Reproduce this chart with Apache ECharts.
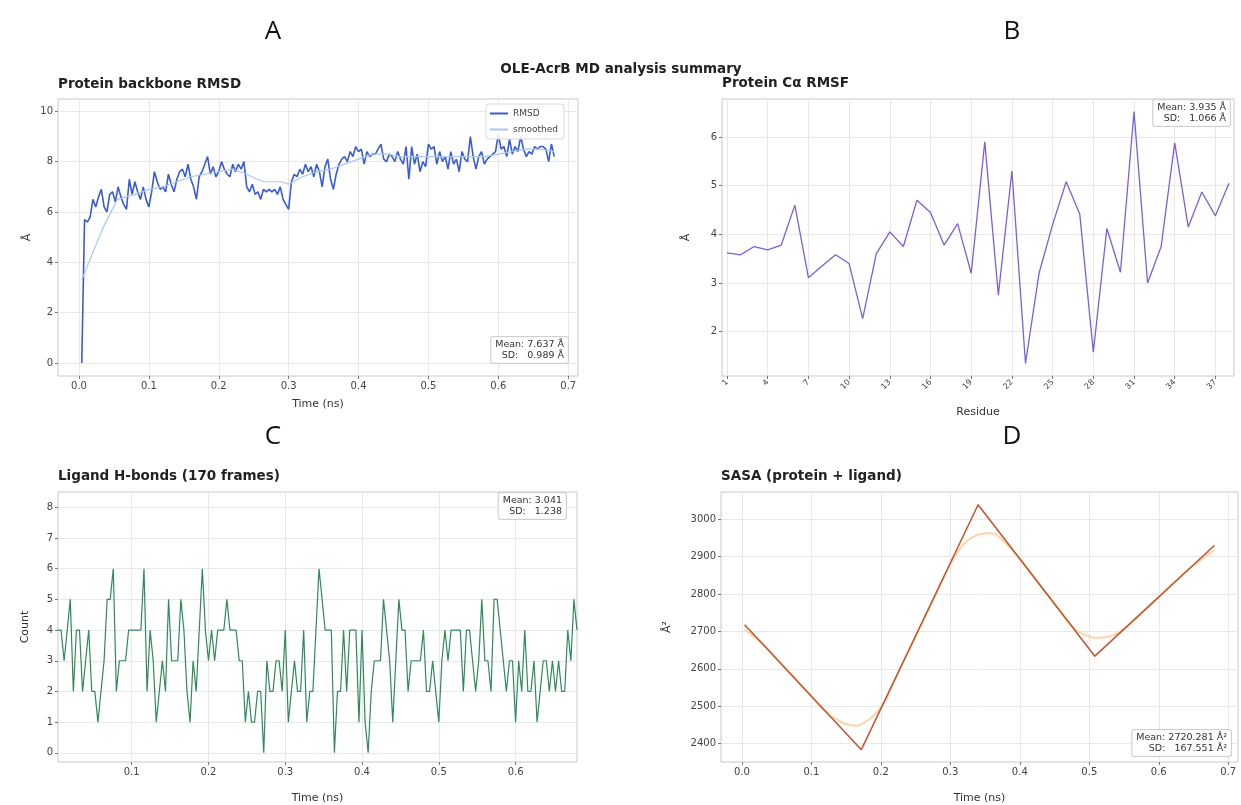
<!DOCTYPE html>
<html>
<head>
    <meta charset="utf-8"/>
    <script src="https://cdn.jsdelivr.net/npm/echarts@6.0.0/dist/echarts.min.js"></script>
    <style>
        html, body { margin: 0; padding: 0; background: #fff; }
    </style>
</head>
<body>
<div id="main" style="width: 1241px;height:805px;"></div>
<script type="text/javascript">
    // ---- data ----
    var frameDt = 0.004;   // ns per frame, 170 frames

    var rmsdValues = [
        0, 5.7, 5.6, 5.8, 6.5, 6.2, 6.6, 6.9, 6.2,
        6.0, 6.7, 6.8, 6.4, 7.0, 6.6, 6.3, 6.1, 7.3, 6.7, 7.2, 6.8, 6.5, 7.0, 6.5, 6.2, 6.8, 7.6, 7.2, 6.9, 7.0, 6.8, 7.5, 7.1,
        6.8, 7.3, 7.6, 7.7, 7.4, 7.9, 7.3, 7.0, 6.5, 7.4, 7.6, 7.9, 8.2, 7.5, 7.8, 7.4, 7.6, 8.0, 7.7, 7.5, 7.4, 7.9, 7.6, 7.9,
        7.7, 8.0, 7.0, 6.8, 7.1, 6.7, 6.8, 6.5, 6.9, 6.8, 6.9, 6.8, 6.9, 6.7, 7.0, 6.5, 6.3, 6.1, 7.2, 7.5, 7.4, 7.7, 7.5, 7.9,
        7.6, 7.8, 7.4, 7.9, 7.6, 7.0, 7.8, 8.1, 7.3, 6.9, 7.5, 7.9, 8.1, 8.2, 8.0, 8.4, 8.2, 8.6, 8.4, 8.5, 7.9, 8.4, 8.2, 8.3,
        8.3, 8.5, 8.7, 8.1, 8.0, 8.3, 8.2, 8.0,
        8.4, 8.1, 7.9, 8.6, 7.3, 8.6, 7.9, 8.3, 7.6, 8.0, 7.8, 8.7, 8.5, 8.6, 7.9, 8.4, 8.0, 8.2, 7.7, 8.4, 7.9, 8.1, 7.6, 8.4,
        8.1, 8.0, 9.0, 8.2, 7.7, 8.2, 8.4, 7.9, 8.1, 8.2, 8.3, 8.4, 9.1, 8.5, 8.6, 8.2, 8.9, 8.3, 8.6, 8.4, 9.0, 8.5, 8.2, 8.4,
        8.3, 8.6, 8.5, 8.6, 8.6, 8.5, 8.0, 8.7, 8.2
    ];
    var rmsdSmoothTimes = [0.004, 0.02, 0.035, 0.055, 0.08, 0.1, 0.12, 0.14, 0.16, 0.18, 0.2, 0.22, 0.24, 0.255, 0.265, 0.29,
        0.3, 0.32, 0.34, 0.36, 0.38, 0.4, 0.42, 0.44, 0.46, 0.48, 0.5, 0.52, 0.54, 0.56, 0.58, 0.6, 0.62, 0.64, 0.66, 0.68];
    var rmsdSmoothValues = [3.3, 4.4, 5.4, 6.5, 6.7, 6.9, 7.0, 7.2, 7.4, 7.5, 7.6, 7.7, 7.5, 7.3, 7.2, 7.2,
        7.1, 7.4, 7.6, 7.7, 7.9, 8.1, 8.3, 8.3, 8.2, 8.2, 8.2, 8.2, 8.2, 8.2, 8.2, 8.3, 8.4, 8.5, 8.5, 8.4];

    var residues = [];
    for (var r = 1; r <= 38; r++) residues.push(r);
    var rmsfValues = [3.62, 3.58, 3.75, 3.68, 3.78, 4.60, 3.11, 3.35, 3.58, 3.40, 2.27, 3.60, 4.05, 3.75, 4.70, 4.45, 3.78,
        4.22, 3.20, 5.90, 2.75, 5.30, 1.35, 3.20, 4.20, 5.08, 4.42, 1.58, 4.12, 3.22, 6.52, 3.00, 3.75, 5.88, 4.15, 4.87,
        4.38, 5.05];

    var hbondValues = [
        4, 4, 3, 4, 5, 2, 4, 4, 2, 3, 4, 2, 2, 1, 2, 3, 5, 5, 6, 2,
        3, 3, 3, 4, 4, 4, 4, 4, 6, 2, 4, 3, 1, 2, 3, 2, 5, 3, 3, 3,
        5, 4, 2, 1, 3, 2, 4, 6, 4, 3, 4, 3, 4, 4, 4, 5, 4, 4, 4, 3,
        3, 1, 2, 1, 1, 2, 2, 0, 3, 2, 2, 3, 3, 2, 4, 1, 2, 3, 2, 2,
        4, 1, 2, 2, 4, 6, 5, 4, 4, 4, 0, 2, 2, 4, 2, 4, 4, 4, 1, 4,
        1, 0, 2, 3, 3, 3, 5, 4, 3, 1, 3, 5, 4, 4, 2, 3, 3, 3, 3, 4,
        2, 2, 3, 2, 1, 3, 4, 3, 4, 4, 4, 4, 2, 4, 4, 3, 2, 3, 5, 3,
        3, 2, 5, 5, 4, 3, 2, 3, 3, 1, 3, 2, 4, 2, 2, 3, 1, 2, 3, 3,
        2, 3, 2, 3, 2, 2, 4, 3, 5, 4
    ];

    var sasaTimes = [0.004, 0.172, 0.340, 0.508, 0.680];
    var sasaValues = [2718, 2384, 3039, 2634, 2930];
    var sasaSmoothTimes = [0.004, 0.03, 0.06, 0.09, 0.12, 0.14, 0.155, 0.165, 0.175, 0.19, 0.205, 0.22, 0.25, 0.28, 0.30,
        0.32, 0.335, 0.35, 0.365, 0.38, 0.40, 0.43, 0.46, 0.48, 0.495, 0.51, 0.525, 0.54, 0.56, 0.6, 0.64, 0.68];
    var sasaSmoothValues = [2705, 2667, 2607, 2547, 2487, 2460, 2450, 2448, 2455, 2475, 2510, 2570, 2686, 2802, 2880,
        2935, 2955, 2963, 2960, 2935, 2895, 2822, 2750, 2705, 2690, 2683, 2685, 2695, 2723, 2792, 2862, 2918];

    // tick labels
    var timeTicks = [0, 0.1, 0.2, 0.3, 0.4, 0.5, 0.6, 0.7];
    var timeTicksC = [0.1, 0.2, 0.3, 0.4, 0.5, 0.6];
    var rmsdTicks = [0, 2, 4, 6, 8, 10];
    var residueTicks = [1, 4, 7, 10, 13, 16, 19, 22, 25, 28, 31, 34, 37];
    var rmsfTicks = [2, 3, 4, 5, 6];
    var hbondTicks = [0, 1, 2, 3, 4, 5, 6, 7, 8];
    var sasaTicks = [2400, 2500, 2600, 2700, 2800, 2900, 3000];

    function pairs(xs, ys) {
        var out = [];
        for (var i = 0; i < ys.length; i++) out.push([xs[i], ys[i]]);
        return out;
    }
    var frameTimes = rmsdValues.map(function (v, i) { return +((i + 1) * frameDt).toFixed(3); });

    var FONT = 'DejaVu Sans';
    var GRID_LINE = '#e8e8e8';

    function axis(grid, min, max, ticks, opts) {
        opts = opts || {};
        return {
            type: 'value',
            gridIndex: grid,
            min: min,
            max: max,
            name: opts.name || '',
            nameLocation: 'middle',
            nameGap: opts.nameGap || 20,
            nameTextStyle: {fontFamily: FONT, fontSize: 11, color: '#333'},
            axisLine: {show: false, onZero: false},
            axisTick: {show: true, length: 3, customValues: ticks, lineStyle: {color: '#777'}},
            axisLabel: {
                customValues: ticks,
                fontFamily: FONT,
                fontSize: opts.labelSize || 10,
                color: '#444',
                margin: opts.margin || 5,
                rotate: opts.rotate || 0,
                formatter: opts.formatter || function (v) { return String(v); }
            },
            splitLine: {show: true, lineStyle: {color: GRID_LINE, width: 1}}
        };
    }
    var fmt1 = function (v) { return v.toFixed(1); };

    var myChart = echarts.init(document.getElementById('main'));

    option = {
        backgroundColor: '#fff',
        animation: false,
        title: [
            {text: 'Protein backbone RMSD', left: 58, top: 77},
            {text: 'Protein C\u03b1 RMSF', left: 722, top: 76},
            {text: 'Ligand H-bonds (170 frames)', left: 58, top: 469},
            {text: 'SASA (protein + ligand)', left: 721, top: 469}
        ].map(function (t) {
            t.padding = 0;
            t.textStyle = {fontFamily: FONT, fontSize: 13.5, fontWeight: 'bold', color: '#222'};
            return t;
        }),
        grid: [
            {left: 58, top: 99, width: 520, height: 277},
            {left: 722, top: 99, width: 512, height: 277},
            {left: 58, top: 492, width: 519, height: 276},
            {left: 721, top: 492, width: 517, height: 276}
        ].map(function (g) {
            g.show = true;
            g.borderColor = '#c8c8c8';
            g.borderWidth = 1;
            g.containLabel = false;
            return g;
        }),
        legend: {
            data: [
                {name: 'RMSD', icon: 'rect'},
                {name: 'smoothed', icon: 'rect'}
            ],
            orient: 'vertical',
            left: 486,
            top: 104,
            itemWidth: 18,
            itemHeight: 2,
            itemGap: 7,
            padding: [5, 6, 5, 4],
            backgroundColor: 'rgba(255,255,255,0.85)',
            borderColor: '#d8d8d8',
            borderWidth: 1,
            borderRadius: 3,
            textStyle: {fontFamily: FONT, fontSize: 9, color: '#444'}
        },
        xAxis: [
            axis(0, -0.030, 0.714, timeTicks, {name: 'Time (ns)', nameGap: 23, formatter: fmt1}),
            axis(1, 0.63, 38.37, residueTicks, {name: 'Residue', nameGap: 31, rotate: 45, labelSize: 8}),
            axis(2, 0.004, 0.680, timeTicksC, {name: 'Time (ns)', nameGap: 31, formatter: fmt1}),
            axis(3, -0.030, 0.714, timeTicks, {name: 'Time (ns)', nameGap: 31, formatter: fmt1})
        ],
        yAxis: [
            axis(0, -0.52, 10.49, rmsdTicks, {name: '\u00c5', nameGap: 25}),
            axis(1, 1.09, 6.78, rmsfTicks, {name: '\u00c5', nameGap: 30}),
            axis(2, -0.3, 8.5, hbondTicks, {name: 'Count', nameGap: 27}),
            axis(3, 2351, 3073, sasaTicks, {name: '\u00c5\u00b2', nameGap: 48})
        ],
        series: [
            {
                name: 'RMSD', type: 'line', xAxisIndex: 0, yAxisIndex: 0,
                data: pairs(frameTimes, rmsdValues),
                showSymbol: false, symbol: 'none',
                lineStyle: {color: '#3a5bd8', width: 1.6}, itemStyle: {color: '#3a5bd8'}
            },
            {
                name: 'smoothed', type: 'line', xAxisIndex: 0, yAxisIndex: 0,
                data: pairs(rmsdSmoothTimes, rmsdSmoothValues),
                showSymbol: false, symbol: 'none',
                lineStyle: {color: '#a9c7ee', width: 1.2}, itemStyle: {color: '#a9c7ee'}
            },
            {
                name: 'rmsf', type: 'line', xAxisIndex: 1, yAxisIndex: 1,
                data: pairs(residues, rmsfValues),
                showSymbol: false, symbol: 'none',
                lineStyle: {color: '#7b5fe0', width: 1.3}
            },
            {
                name: 'hbonds', type: 'line', xAxisIndex: 2, yAxisIndex: 2,
                data: pairs(frameTimes, hbondValues),
                showSymbol: false, symbol: 'none',
                lineStyle: {color: '#2e8b57', width: 1.2}
            },
            {
                name: 'sasa smooth', type: 'line', xAxisIndex: 3, yAxisIndex: 3,
                data: pairs(sasaSmoothTimes, sasaSmoothValues),
                showSymbol: false, symbol: 'none', smooth: 0.3,
                lineStyle: {color: '#fdd3a8', width: 2}
            },
            {
                name: 'sasa', type: 'line', xAxisIndex: 3, yAxisIndex: 3,
                data: pairs(sasaTimes, sasaValues),
                showSymbol: false, symbol: 'none',
                lineStyle: {color: '#c4522c', width: 1.5}
            }
        ],
        graphic: [
            // panel letters and overall title
            {type: 'text', x: 273, y: 32, style: {text: 'A', font: '26px "Open Sans"', fill: '#111', align: 'center', verticalAlign: 'middle'}},
            {type: 'text', x: 1012, y: 32, style: {text: 'B', font: '26px "Open Sans"', fill: '#111', align: 'center', verticalAlign: 'middle'}},
            {type: 'text', x: 273, y: 437, style: {text: 'C', font: '26px "Open Sans"', fill: '#111', align: 'center', verticalAlign: 'middle'}},
            {type: 'text', x: 1012, y: 437, style: {text: 'D', font: '26px "Open Sans"', fill: '#111', align: 'center', verticalAlign: 'middle'}},
            {type: 'text', x: 621, y: 69, style: {text: 'OLE-AcrB MD analysis summary', font: 'bold 13.5px "DejaVu Sans"', fill: '#222', align: 'center', verticalAlign: 'middle'}}
        ].concat([
            {x: 568, y: 337, text: 'Mean: 7.637 \u00c5\nSD:   0.989 \u00c5'},
            {x: 1230, y: 100, text: 'Mean: 3.935 \u00c5\nSD:   1.066 \u00c5'},
            {x: 566, y: 493, text: 'Mean: 3.041\nSD:   1.238'},
            {x: 1231, y: 730, text: 'Mean: 2720.281 \u00c5\u00b2\nSD:   167.551 \u00c5\u00b2'}
        ].map(function (b) {
            return {
                type: 'text', x: b.x, y: b.y, z: 100,
                style: {
                    text: b.text, font: '9.5px "DejaVu Sans"', fill: '#333', align: 'right', verticalAlign: 'top',
                    lineHeight: 11, padding: [2, 4], backgroundColor: 'rgba(255,255,255,0.85)',
                    borderColor: '#cfcfcf', borderWidth: 1, borderRadius: 2
                }
            };
        }))
    };

    myChart.setOption(option);
</script>
</body>
</html>
